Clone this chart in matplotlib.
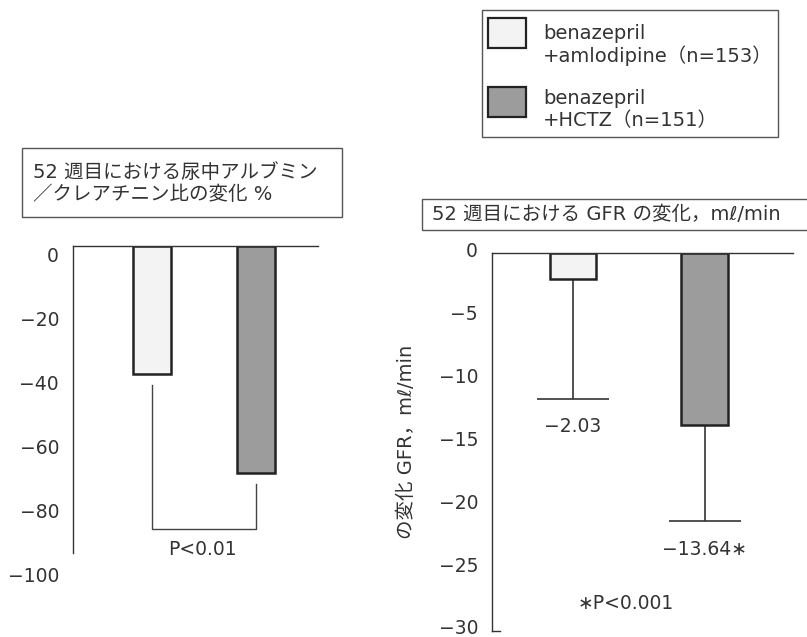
import matplotlib
matplotlib.use('Agg')
import matplotlib.pyplot as plt
import matplotlib.transforms as mtransforms
from matplotlib.patches import Rectangle

plt.rcParams['font.family'] = ['DejaVu Sans', 'Noto Sans CJK JP']

W, H = 807, 637

groups = ['benazepril\n+amlodipine（n=153）', 'benazepril\n+HCTZ（n=151）']
fills = ['#f3f3f3', '#9c9c9c']

# left panel: UACR change at 52 weeks (%)
uacr_change = [-40, -71]
uacr_ticks = [0, -20, -40, -60, -80, -100]
uacr_p = 'P<0.01'
uacr_title = '52 週目における尿中アルブミン\n／クレアチニン比の変化 %'

# right panel: GFR change at 52 weeks (ml/min)
gfr_change = [-2.03, -13.64]
gfr_err_low = [-11.6, -21.3]
gfr_labels = ['−2.03', '−13.64∗']
gfr_ticks = [0, -5, -10, -15, -20, -25, -30]
gfr_p = '∗P<0.001'
gfr_title = '52 週目における GFR の変化，mℓ/min'
gfr_ylabel = 'の変化 GFR，mℓ/min'

TXT = '#333333'
EDGE = '#222222'
FS = 13.5


def fx(px):
    return px / W


def fy(py):
    return 1 - py / H


def box(px0, py0, px1, py1, fig):
    fig.patches.append(Rectangle((fx(px0), fy(py1)), fx(px1) - fx(px0),
                                 fy(py0) - fy(py1), transform=fig.transFigure,
                                 fill=False, edgecolor='#555555', lw=1.0))


def shift_labels(ax, fig, dy_px):
    off = mtransforms.ScaledTranslation(0, dy_px / 100, fig.dpi_scale_trans)
    for lbl in ax.get_yticklabels():
        lbl.set_transform(lbl.get_transform() + off)


fig = plt.figure(figsize=(W / 100, H / 100), dpi=100)

# ---- left panel
ax1 = fig.add_axes([fx(73), fy(566), fx(318) - fx(73), fy(246) - fy(566)])
x = [0, 1]
ax1.bar(x, uacr_change, width=0.365, color=fills, edgecolor=EDGE, lw=1.8)
ax1.set_xlim(-0.76, 1.596)
ax1.set_ylim(-100, 0)
ax1.set_yticks(uacr_ticks)
ax1.set_yticklabels([str(t).replace('-', '−') for t in uacr_ticks])
ax1.tick_params(axis='y', length=0, pad=10, labelsize=FS, labelcolor=TXT)
ax1.set_xticks([])
for s in ['right', 'bottom']:
    ax1.spines[s].set_visible(False)
ax1.spines['left'].set_bounds(-96, 0)
for s in ['left', 'top']:
    ax1.spines[s].set_color('#333333')
    ax1.spines[s].set_linewidth(1.0)
shift_labels(ax1, fig, -9)

# significance bracket
yb = -88.5
ax1.plot([0, 0, 1, 1], [uacr_change[0] - 3.4, yb, yb, uacr_change[1] - 3.4],
         color='#444444', lw=1.0)
ax1.text(0.48, -94.7, uacr_p, ha='center', va='center', fontsize=FS, color=TXT)

box(22, 148, 342, 217, fig)
fig.text(fx(33), fy(183), uacr_title, ha='left', va='center', fontsize=14,
         color=TXT, linespacing=1.2)

# ---- right panel
ax2 = fig.add_axes([fx(492), fy(631), fx(793) - fx(492), fy(253) - fy(631)])
yerr = [[v - lo for v, lo in zip(gfr_change, gfr_err_low)], [0, 0]]
ax2.bar(x, gfr_change, width=0.35, color=fills, edgecolor=EDGE, lw=1.8,
        zorder=2)
eb = ax2.errorbar(x, gfr_change, yerr=yerr, fmt='none', ecolor='#333333',
                  elinewidth=1.2, capsize=26, capthick=1.2, zorder=1)
eb[1][1].set_visible(False)  # no cap on the bar end
ax2.set_xlim(-0.616, 1.673)
ax2.set_ylim(-30, 0)
ax2.set_yticks(gfr_ticks)
ax2.set_yticklabels([str(t).replace('-', '−') for t in gfr_ticks])
ax2.tick_params(axis='y', length=0, pad=10, labelsize=FS, labelcolor=TXT)
ax2.set_xticks([])
ax2.spines['right'].set_visible(False)
ax2.spines['bottom'].set_bounds(-0.616, -0.616 + 8 / 131.5)
for s in ['left', 'top', 'bottom']:
    ax2.spines[s].set_color('#333333')
    ax2.spines[s].set_linewidth(1.0)
shift_labels(ax2, fig, 4)

for xi, lo, lab in zip(x, gfr_err_low, gfr_labels):
    ax2.text(xi, lo - 2.2, lab, ha='center', va='center', fontsize=FS, color=TXT)
ax2.text(0.4, -27.8, gfr_p, ha='center', va='center', fontsize=FS, color=TXT)

box(422, 199, 830, 230, fig)
fig.text(fx(432), fy(214), gfr_title, ha='left', va='center', fontsize=14,
         color=TXT)
fig.text(fx(407), fy(442), gfr_ylabel, rotation=90, ha='center', va='center',
         fontsize=14, color=TXT)

# ---- legend
box(482, 10, 778, 137, fig)
for (py0, py1, ty), lab, c in zip([(18, 48, 45), (87, 117, 110)], groups, fills):
    fig.patches.append(Rectangle((fx(488), fy(py1)), fx(526) - fx(488),
                                 fy(py0) - fy(py1), transform=fig.transFigure,
                                 facecolor=c, edgecolor=EDGE, lw=1.6))
    fig.text(fx(543), fy(ty), lab, ha='left', va='center', fontsize=14,
             color=TXT, linespacing=1.2)

fig.savefig('out.png', dpi=100)
